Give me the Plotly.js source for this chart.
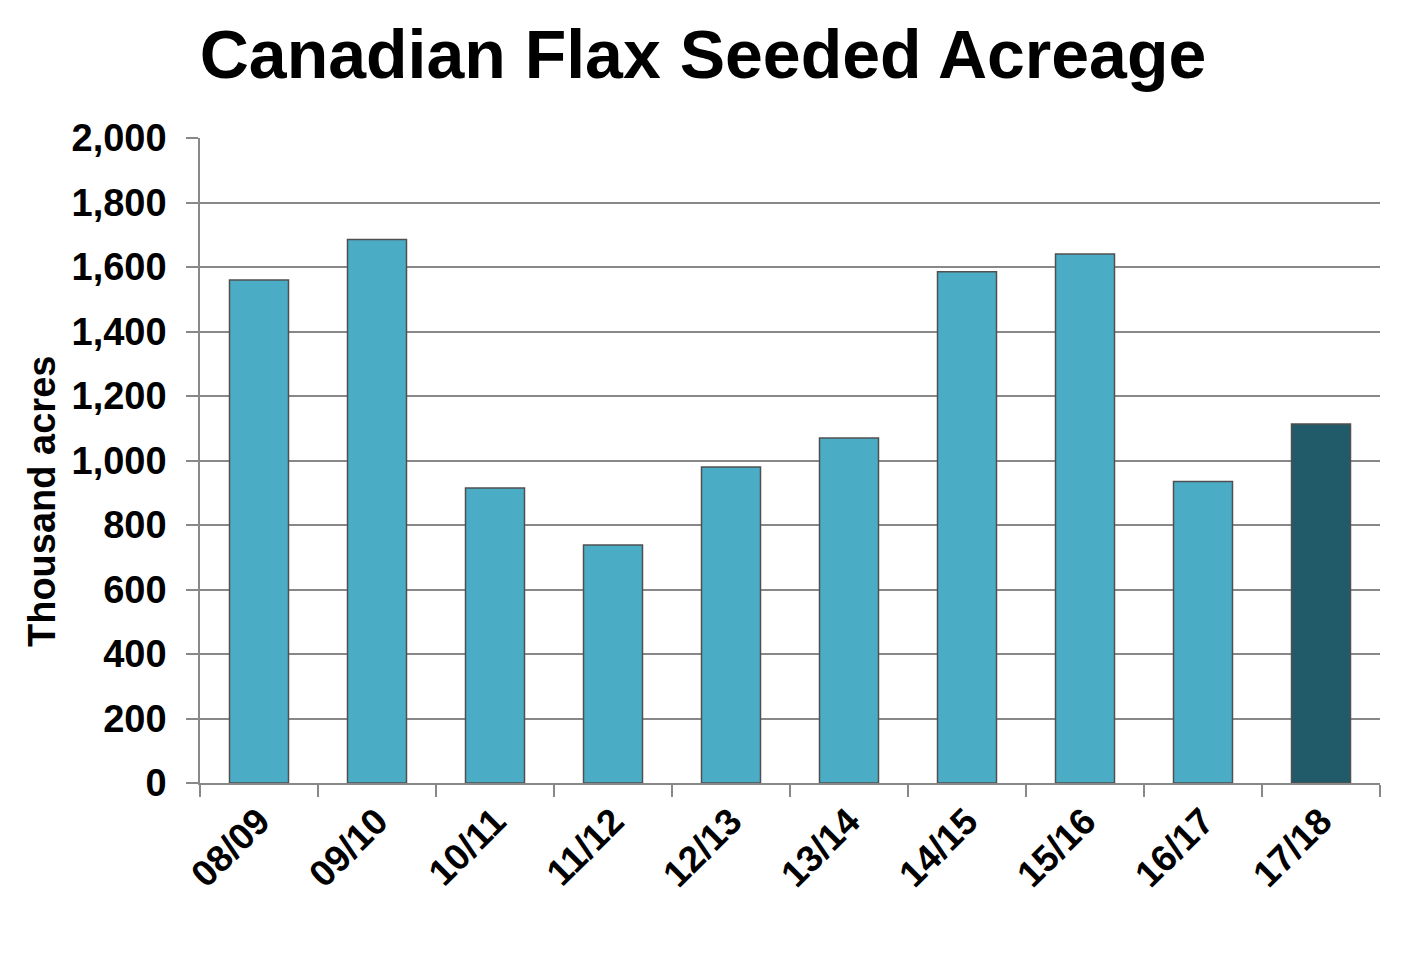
<!DOCTYPE html>
<html><head><meta charset="utf-8">
<script src="https://cdn.plot.ly/plotly-3.0.1.min.js"></script>
<style>html,body{margin:0;padding:0;background:#fff}#chart{width:1406px;height:956px}</style>
</head><body><div id="chart"></div>
<script>
const seasons = ["08/09","09/10","10/11","11/12","12/13","13/14","14/15","15/16","16/17","17/18"];
const acreage = [1560, 1685, 915, 738, 980, 1070, 1585, 1640, 935, 1113];
const barColors = ["#4BACC6","#4BACC6","#4BACC6","#4BACC6","#4BACC6","#4BACC6","#4BACC6","#4BACC6","#4BACC6","#215A69"];
const yTicks = [0,200,400,600,800,1000,1200,1400,1600,1800,2000];
const yTickText = ["0","200","400","600","800","1,000","1,200","1,400","1,600","1,800","2,000"];

const font = "Liberation Sans, Arial, sans-serif";
Plotly.newPlot("chart", [{
  type: "bar", x: seasons, y: acreage, width: 0.5,
  marker: {color: barColors, line: {color: "#505050", width: 1.5}},
  hoverinfo: "x+y"
}], {
  width: 1406, height: 956,
  margin: {l: 200, r: 26, t: 138, b: 173},
  paper_bgcolor: "#fff", plot_bgcolor: "#fff",
  showlegend: false,
  title: {text: "<b>Canadian Flax Seeded Acreage</b>", x: 0.5, xanchor: "center", y: 0.943, yanchor: "middle",
          font: {family: font, size: 68, color: "#000"}},
  xaxis: {type: "category", tickson: "boundaries", ticks: "outside", ticklen: 12, tickcolor: "#888", tickwidth: 1.5,
          showline: true, linecolor: "#888", linewidth: 1.5, showgrid: false,
          tickangle: -45, tickfont: {family: font, size: 37, color: "#000", weight: "bold"}},
  yaxis: {range: [0, 2000], tickvals: yTicks, ticktext: yTickText, ticks: "outside", ticklen: 12, tickcolor: "#888", tickwidth: 1.5,
          showline: true, linecolor: "#888", linewidth: 1.5, showgrid: true, gridcolor: "#888", gridwidth: 1.5, zeroline: false,
          ticklabelstandoff: 12,
          tickfont: {family: font, size: 38, color: "#000", weight: "bold"}},
  annotations: [{text: "<b>Thousand acres</b>", xref: "paper", yref: "paper", x: -0.134, y: 0.437,
                 xanchor: "center", yanchor: "middle", textangle: -90, showarrow: false,
                 font: {family: font, size: 38, color: "#000"}}]
}, {displayModeBar: false});
</script></body></html>
